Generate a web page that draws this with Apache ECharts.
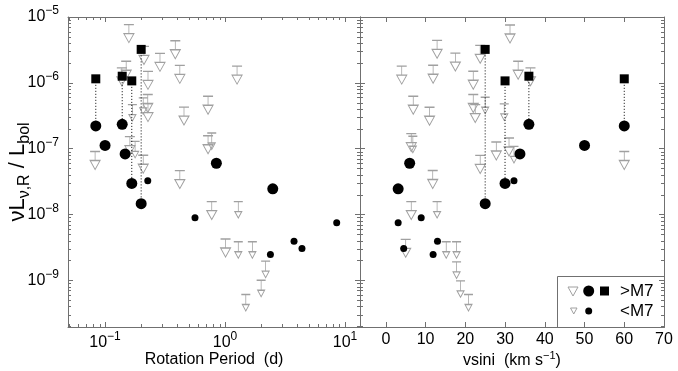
<!DOCTYPE html>
<html>
<head>
<meta charset="utf-8">
<script src="https://cdn.jsdelivr.net/npm/echarts@6/dist/echarts.min.js"></script>
<style>
  html, body { margin: 0; padding: 0; background: #fff; }
  #chart { width: 678px; height: 371px; }
</style>
</head>
<body>
<div id="chart"></div>
<script>
// detections, big symbols (>M7): period (d), vsini (km/s), nuL/Lbol
const bigPeriod = [0.0837, 0.1, 0.139, 0.147, 0.167, 0.2, 0.847, 2.5]
const bigVsini = [60, 50, 36, 33.75, 30, 25, 6, 3.1]
const bigLum = [2.21e-7, 1.12e-7, 2.34e-7, 8.3e-8, 2.96e-8, 1.46e-8, 6.0e-8, 2.45e-8]

// detections, small symbols (<M7)
const smallPeriod = [0.227, 0.562, 2.39, 3.76, 4.38, 8.53]
const smallVsini = [32.25, 8.9, 11.9, 13, 4.5, 3.1]
const smallLum = [3.24e-8, 8.9e-9, 2.47e-9, 3.9e-9, 3.05e-9, 7.5e-9]

// squares sit above the big circle with the same index
const squareOf = [0, 2, 4, 5]
const squareLum = [1.15e-6, 1.26e-6, 1.07e-6, 3.22e-6]

// upper limits [x, limit]
const periodLimBig = [
  [0.158, 7.65e-6], [0.385, 4.36e-6], [0.287, 2.8e-6], [0.211, 3.57e-6], [0.150, 2.13e-6],
  [0.138, 1.69e-6], [0.228, 1.49e-6], [0.42, 1.84e-6], [1.26, 1.79e-6], [0.722, 6.25e-7],
  [0.455, 4.28e-7], [0.227, 6.64e-7], [0.228, 4.83e-7], [0.722, 1.57e-7], [0.161, 1.52e-7],
  [0.0826, 9.06e-8], [0.208, 7.94e-8], [0.42, 4.64e-8], [0.775, 1.57e-8], [1.01, 4.24e-9]
]
const periodLimSmall = [
  [0.208, 5.9e-7], [0.169, 4.67e-7], [0.775, 1.73e-7], [0.178, 1.29e-7], [1.29, 1.57e-8],
  [1.29, 3.85e-9], [1.69, 3.85e-9], [2.18, 1.95e-9], [2.0, 1.0e-9], [1.49, 6.08e-10]
]
const vsiniLimBig = [
  [31.25, 7.55e-6], [12.9, 4.42e-6], [17.5, 2.83e-6], [23.75, 3.71e-6], [4, 1.79e-6],
  [11.9, 1.85e-6], [22, 1.5e-6], [33.3, 2.13e-6], [36.4, 1.69e-6], [6.9, 6.25e-7],
  [11, 4.25e-7], [22, 6.64e-7], [22.5, 4.67e-7], [6.4, 1.69e-7], [11.8, 4.66e-8],
  [23.75, 7.88e-8], [27.8, 1.26e-7], [31, 1.45e-7], [60, 9.06e-8], [6.4, 1.57e-8], [5, 4.19e-9]
]
const vsiniLimSmall = [
  [25, 6.03e-7], [29.8, 4.78e-7], [6.8, 1.54e-7], [32.25, 1.08e-7], [12.9, 1.57e-8],
  [15.2, 3.85e-9], [17.8, 3.85e-9], [17.8, 1.9e-9], [18.8, 9.8e-10], [20.8, 6.08e-10]
]

const FONT = '"Liberation Sans", Arial, Helvetica, sans-serif'
const frameColor = '#707070'
const limitColor = '#a0a0a0'

const periodMin = 0.0491
const periodMax = 13.34
const lumMin = 1.95e-10
const lumMax = 1e-5
const vsiniMin = -6.5
const vsiniMax = 70

const bigLimitPath = 'path://M0,0L10,0M5,0L5,9M0,9L10,9L5,18Z'
const smallLimitPath = 'path://M0,0L9,0M4.5,0L4.5,10M1,10L8,10L4.5,16.5Z'

function powLabel(v) {
  const e = Math.log10(v)
  if (Math.abs(e - Math.round(e)) > 1e-6) return ''
  const n = Math.round(e)
  return '{b|10}{e|' + (n < 0 ? '\u2212' + (-n) : n) + '}'
}
const supRich = {
  b: { fontSize: 16, lineHeight: 24, fontFamily: FONT, color: '#000' },
  e: { fontSize: 12, lineHeight: 13, verticalAlign: 'top', fontFamily: FONT, color: '#000' }
}

// minor ticks of the log axes (2..9 per decade)
function minorValues(lo, hi) {
  const out = []
  for (let n = Math.floor(Math.log10(lo)); n <= Math.ceil(Math.log10(hi)); n++) {
    for (let k = 2; k <= 9; k++) {
      const v = k * Math.pow(10, n)
      if (v > lo && v < hi) out.push(v)
    }
  }
  return out
}
const lumMinor = minorValues(lumMin, lumMax)
const periodMinor = minorValues(periodMin, periodMax)

function tickLine(x1, y1, x2, y2) {
  return { type: 'line', shape: { x1: x1, y1: y1, x2: x2, y2: y2 }, style: { stroke: frameColor, lineWidth: 1 } }
}

function yMinorSeries(p, xRef) {
  return {
    type: 'custom', xAxisIndex: p * 2, yAxisIndex: p * 2, silent: true, z: 1,
    data: lumMinor.map(v => [xRef, v]),
    renderItem: function(params, api) {
      const cs = params.coordSys
      const y = Math.round(api.coord([xRef, api.value(1)])[1]) + 0.5
      return { type: 'group', children: [
        tickLine(cs.x, y, cs.x + 3, y),
        tickLine(cs.x + cs.width - 3, y, cs.x + cs.width, y)
      ] }
    }
  }
}

function xMinorSeries() {
  return {
    type: 'custom', xAxisIndex: 0, yAxisIndex: 0, silent: true, z: 1,
    data: periodMinor.map(v => [v, 1e-7]),
    renderItem: function(params, api) {
      const cs = params.coordSys
      const x = Math.round(api.coord([api.value(0), 1e-7])[0]) + 0.5
      return { type: 'group', children: [
        tickLine(x, cs.y, x, cs.y + 3),
        tickLine(x, cs.y + cs.height - 3, x, cs.y + cs.height)
      ] }
    }
  }
}

function limitSeries(p, data, big) {
  return {
    type: 'scatter', xAxisIndex: p * 2, yAxisIndex: p * 2, data: data,
    symbol: big ? bigLimitPath : smallLimitPath,
    symbolSize: big ? [10, 18] : [9, 16.5],
    symbolOffset: [0, '50%'],
    itemStyle: { color: 'rgba(255,255,255,0)', borderColor: limitColor, borderWidth: 1, opacity: 1 },
    z: 2
  }
}

const black = { color: '#000', opacity: 1 }

function detectionSeries(p, xs) {
  const ai = p * 2
  const list = []
  squareOf.forEach(function(ci, i) {
    list.push({
      type: 'line', xAxisIndex: ai, yAxisIndex: ai, symbol: 'none', z: 3,
      data: [[xs[ci], squareLum[i]], [xs[ci], bigLum[ci]]],
      lineStyle: { color: '#000', width: 1, type: [1, 2], opacity: 1 }
    })
  })
  list.push({
    type: 'scatter', xAxisIndex: ai, yAxisIndex: ai, symbol: 'rect', symbolSize: 9, z: 4,
    data: squareOf.map((ci, i) => [xs[ci], squareLum[i]]),
    itemStyle: black
  })
  list.push({
    type: 'scatter', xAxisIndex: ai, yAxisIndex: ai, symbol: 'circle', symbolSize: 11, z: 4,
    data: xs.map((x, i) => [x, bigLum[i]]),
    itemStyle: black
  })
  return list
}

function smallSeries(p, xs) {
  return {
    type: 'scatter', xAxisIndex: p * 2, yAxisIndex: p * 2, symbol: 'circle', symbolSize: 7, z: 4,
    data: xs.map((x, i) => [x, smallLum[i]]),
    itemStyle: black
  }
}

const axisLine = { show: true, onZero: false, lineStyle: { color: frameColor, width: 1 } }
const majorTick = { show: true, inside: true, length: 5, lineStyle: { color: frameColor } }
const noLabel = { show: false }

const chart = echarts.init(document.getElementById('chart'), null, { renderer: 'canvas' })
chart.setOption({
  animation: false,
  backgroundColor: '#fff',
  textStyle: { fontFamily: FONT },
  grid: [
    { left: 68, top: 17, width: 292, height: 310, containLabel: false, outerBoundsMode: 'none' },
    { left: 360, top: 17, width: 304, height: 310, containLabel: false, outerBoundsMode: 'none' }
  ],
  xAxis: [
    {
      gridIndex: 0, type: 'log', logBase: 10, min: periodMin, max: periodMax, position: 'bottom',
      axisLine: axisLine, axisTick: majorTick, splitLine: { show: false },
      axisLabel: { formatter: powLabel, rich: supRich, margin: 4, hideOverlap: false },
      name: 'Rotation Period  (d)', nameLocation: 'middle', nameGap: 24, nameMoveOverlap: false,
      nameTextStyle: { fontSize: 16, fontFamily: FONT, color: '#000', lineHeight: 18 }
    },
    {
      gridIndex: 0, type: 'log', logBase: 10, min: periodMin, max: periodMax, position: 'top',
      axisLine: axisLine, axisTick: majorTick, splitLine: { show: false }, axisLabel: noLabel
    },
    {
      gridIndex: 1, type: 'value', min: vsiniMin, max: vsiniMax, splitNumber: 8,
      minInterval: 10, maxInterval: 10, position: 'bottom',
      axisLine: axisLine, axisTick: majorTick, splitLine: { show: false },
      axisLabel: {
        margin: 5, fontSize: 16, color: '#000', fontFamily: FONT, hideOverlap: false,
        formatter: v => (Math.abs(v % 10) < 1e-9 ? String(v) : '')
      },
      name: 'vsini  (km s{e|\u22121})', nameLocation: 'middle', nameGap: 23, nameMoveOverlap: false,
      nameTextStyle: {
        fontSize: 16, fontFamily: FONT, color: '#000', lineHeight: 22,
        rich: { e: { fontSize: 11, lineHeight: 12, verticalAlign: 'top', fontFamily: FONT, color: '#000' } }
      }
    },
    {
      gridIndex: 1, type: 'value', min: vsiniMin, max: vsiniMax, splitNumber: 8,
      minInterval: 10, maxInterval: 10, position: 'top',
      axisLine: axisLine, axisTick: majorTick, splitLine: { show: false }, axisLabel: noLabel
    }
  ],
  yAxis: [
    {
      gridIndex: 0, type: 'log', logBase: 10, min: lumMin, max: lumMax, position: 'left',
      axisLine: axisLine, axisTick: majorTick, splitLine: { show: false },
      axisLabel: { formatter: powLabel, rich: supRich, margin: 9, hideOverlap: false },
      name: '\u03bdL{s|\u03bd,R} / L{s|bol}', nameLocation: 'middle', nameRotate: 90, nameGap: 35,
      nameMoveOverlap: false,
      nameTextStyle: {
        fontSize: 22, fontFamily: FONT, color: '#000', lineHeight: 30,
        rich: { s: { fontSize: 16, lineHeight: 17, verticalAlign: 'bottom', fontFamily: FONT, color: '#000' } }
      }
    },
    {
      gridIndex: 0, type: 'log', logBase: 10, min: lumMin, max: lumMax, position: 'right',
      axisLine: axisLine, axisTick: majorTick, splitLine: { show: false }, axisLabel: noLabel
    },
    {
      gridIndex: 1, type: 'log', logBase: 10, min: lumMin, max: lumMax, position: 'left',
      axisLine: axisLine, axisTick: majorTick, splitLine: { show: false }, axisLabel: noLabel
    },
    {
      gridIndex: 1, type: 'log', logBase: 10, min: lumMin, max: lumMax, position: 'right',
      axisLine: axisLine, axisTick: majorTick, splitLine: { show: false }, axisLabel: noLabel
    }
  ],
  series: [
    yMinorSeries(0, 1),
    yMinorSeries(1, 0),
    xMinorSeries(),
    limitSeries(0, periodLimBig, true),
    limitSeries(0, periodLimSmall, false),
    limitSeries(1, vsiniLimBig, true),
    limitSeries(1, vsiniLimSmall, false)
  ]
    .concat(detectionSeries(0, bigPeriod))
    .concat(detectionSeries(1, bigVsini))
    .concat([smallSeries(0, smallPeriod), smallSeries(1, smallVsini)]),
  graphic: [
    {
      type: 'group', left: 557, top: 276, z: 100,
      children: [
        { type: 'rect', shape: { x: 0.5, y: 0.5, width: 107, height: 51 }, style: { fill: '#fff', stroke: frameColor, lineWidth: 1 } },
        { type: 'polygon', shape: { points: [[11, 11], [21, 11], [16, 20]] }, style: { fill: 'none', stroke: limitColor, lineWidth: 1 } },
        { type: 'circle', shape: { cx: 31.7, cy: 15, r: 5.5 }, style: { fill: '#000' } },
        { type: 'rect', shape: { x: 43, y: 10.5, width: 9, height: 9 }, style: { fill: '#000' } },
        { type: 'text', x: 63, y: 15, style: { text: '>M7', font: '17px ' + FONT, fill: '#000', verticalAlign: 'middle' } },
        { type: 'polygon', shape: { points: [[13.5, 32], [20, 32], [16.75, 38]] }, style: { fill: 'none', stroke: limitColor, lineWidth: 1 } },
        { type: 'circle', shape: { cx: 31.7, cy: 35, r: 3.5 }, style: { fill: '#000' } },
        { type: 'text', x: 63, y: 35, style: { text: '<M7', font: '17px ' + FONT, fill: '#000', verticalAlign: 'middle' } }
      ]
    }
  ]
})
</script>
</body>
</html>
